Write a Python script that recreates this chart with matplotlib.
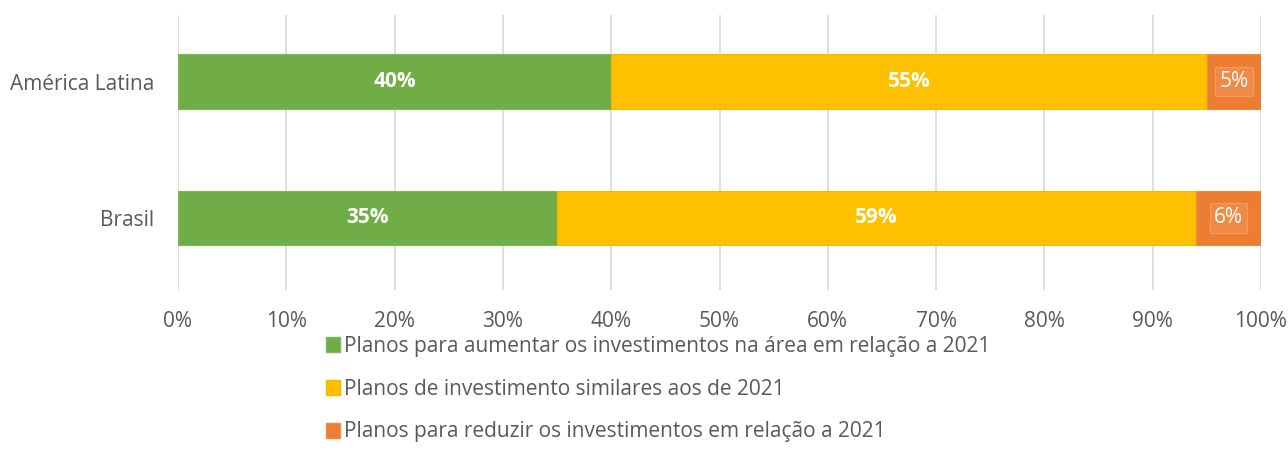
import matplotlib
matplotlib.use("Agg")
import matplotlib.pyplot as plt
from matplotlib.patches import Patch

categories = ["Brasil", "América Latina"]
aumentar = [35, 40]
similares = [59, 55]
reduzir = [6, 5]
series_labels = [
    "Planos para aumentar os investimentos na área em relação a 2021",
    "Planos de investimento similares aos de 2021",
    "Planos para reduzir os investimentos em relação a 2021",
]
colors = ["#70AD47", "#FFC000", "#ED7D31"]
edge_colors = ["#7DB957", "#F2BA00", "#F08A47"]
xticks = list(range(0, 101, 10))

plt.rcParams['font.family'] = ['Open Sans', 'DejaVu Sans']
fig = plt.figure(figsize=(12.88, 4.70), dpi=100)
ax = fig.add_axes([178/1288, 1-290/470, (1261-178)/1288, 275/470])

FS = 15
ypos = list(range(len(categories)))
h = 0.40
left = [0]*len(categories)
handles = []
for i, vals in enumerate([aumentar, similares, reduzir]):
    ax.barh(ypos, vals, left=left, height=h, color=colors[i],
            edgecolor=edge_colors[i], linewidth=0.8, zorder=3)
    for y, v, l in zip(ypos, vals, left):
        cx = l + v/2
        if i < 2:
            ax.text(cx, y, f"{v}%", ha="center", va="center", color="white",
                    fontsize=FS, fontweight="bold", zorder=4)
        else:
            ax.text(cx, y, f"{v}%", ha="center", va="center", color="white",
                    fontsize=FS, zorder=4,
                    bbox=dict(boxstyle="square,pad=0.2", fc="#F08A47",
                              ec="#F39B60", lw=0.8))
    left = [a+b for a, b in zip(left, vals)]
    handles.append(Patch(facecolor=colors[i], edgecolor=edge_colors[i]))

ax.set_xlim(0, 100)
ax.set_ylim(-0.53, 1.49)
ax.set_xticks(xticks)
ax.set_xticklabels([f"{t}%" for t in xticks])
ax.set_yticks(ypos)
ax.set_yticklabels(categories)
ax.grid(axis="x", color="#D9D9D9", linewidth=1.2, zorder=0)
for s in ax.spines.values():
    s.set_visible(False)
ax.tick_params(axis="both", length=0, labelsize=FS, colors="#595959")
ax.tick_params(axis="x", pad=15)
ax.tick_params(axis="y", pad=17)

fig.legend(handles, series_labels, loc="upper center", bbox_to_anchor=(0.511, 1-317/470),
           ncol=1, frameon=False, fontsize=FS, labelcolor="#595959",
           handlelength=0.7, handleheight=0.7, handletextpad=0.2, labelspacing=1.05)

fig.savefig("out.png", dpi=100)
